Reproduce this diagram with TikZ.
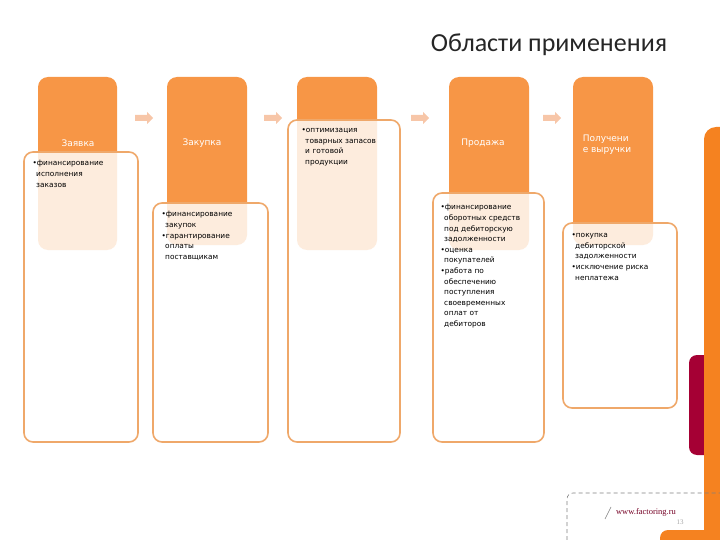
\documentclass[tikz,border=0pt]{standalone}
\usepackage{fontspec}
\setmainfont{DejaVu Sans}
\newfontfamily\titlefont{Carlito}
\newfontfamily\urlfont{Liberation Serif}
\definecolor{org}{HTML}{F79646}
\definecolor{bord}{HTML}{EFA86A}
\definecolor{arr}{HTML}{F7C6A8}
\definecolor{deep}{HTML}{F58220}
\definecolor{crim}{HTML}{A50034}
\begin{document}
\begin{tikzpicture}[x=1pt,y=-1pt,
  top/.style={fill=org,rounded corners=10pt},
  card/.style={draw=bord,line width=1.6pt,fill=white,fill opacity=0.82,text opacity=1,rounded corners=9pt},
  head/.style={text=white,font=\fontsize{9}{11}\selectfont,align=left},
  body/.style={font=\fontsize{7.4}{10.6}\selectfont,align=left,anchor=north west,text width=110pt},
  flow/.style={fill=arr}]
\useasboundingbox (0,0) rectangle (720,540);
% right decoration
\fill[deep,rounded corners=12pt] (704,127) -- (740,127) -- (740,560) -- (704,560) -- cycle;
\fill[crim,rounded corners=8pt] (689,355) rectangle (712,455);
\fill[deep] (704,300) rectangle (720,540);
\fill[deep,rounded corners=8pt] (660,530) rectangle (730,560);
\node[font=\titlefont\fontsize{26}{28}\selectfont,text=black!85] (title) at (549,45) {Области применения};
% tops
\fill[top] (38,77) rectangle (117,250);
\fill[top] (167,77) rectangle (247,245);
\fill[top] (297,77) rectangle (377,250);
\fill[top] (449,77) rectangle (529,250);
\fill[top] (573,77) rectangle (653,245);
% cards
\draw[card] (24,152) rectangle (138,442);
\draw[card] (153,203) rectangle (268,442);
\draw[card] (288,120) rectangle (400,442);
\draw[card] (433,193) rectangle (544,442);
\draw[card] (563,223) rectangle (677,408);
% heads
\node[head] (h1) at (78,143) {Заявка};
\node[head] (h2) at (202,143) {Закупка};
\node[head] (h4) at (483,143) {Продажа};
\node[head] (h5) at (607,145) {Получени\\е выручки};
% bodies
\node[body] (b1) at (29,157) {•финансирование\\\ \,исполнения\\\ \,заказов};
\node[body] (b2) at (158,208) {•финансирование\\\ \,закупок\\•гарантирование\\\ \,оплаты\\\ \,поставщикам};
\node[body] (b3) at (298,125) {•оптимизация\\\ \,товарных запасов\\\ \,и готовой\\\ \,продукции};
\node[body] (b4) at (437,201) {•финансирование\\\ \,оборотных средств\\\ \,под дебиторскую\\\ \,задолженности\\•оценка\\\ \,покупателей\\•работа по\\\ \,обеспечению\\\ \,поступления\\\ \,своевременных\\\ \,оплат от\\\ \,дебиторов};
\node[body] (b5) at (568,230) {•покупка\\\ \,дебиторской\\\ \,задолженности\\•исключение риска\\\ \,неплатежа};
% arrows
\foreach \ax in {144,273,420,552}
  \fill[flow,shift={(\ax,118)}] (-9,-3) -- (3,-3) -- (3,-6) -- (9,0) -- (3,6) -- (3,3) -- (-9,3) -- cycle;
% footer
\draw[gray,dash pattern=on 4pt off 3pt,line width=0.6pt,rounded corners=6pt] (567,540) -- (567,493) -- (720,493);
\draw[gray,line width=0.6pt] (605,519) -- (611,507);
\node[font=\urlfont\fontsize{8.5}{9}\selectfont,text=crim!70!black] (url) at (646,512) {www.factoring.ru};
\node[font=\urlfont\fontsize{7}{8}\selectfont,text=gray!70] (pg) at (680,522) {13};
\end{tikzpicture}
\end{document}
